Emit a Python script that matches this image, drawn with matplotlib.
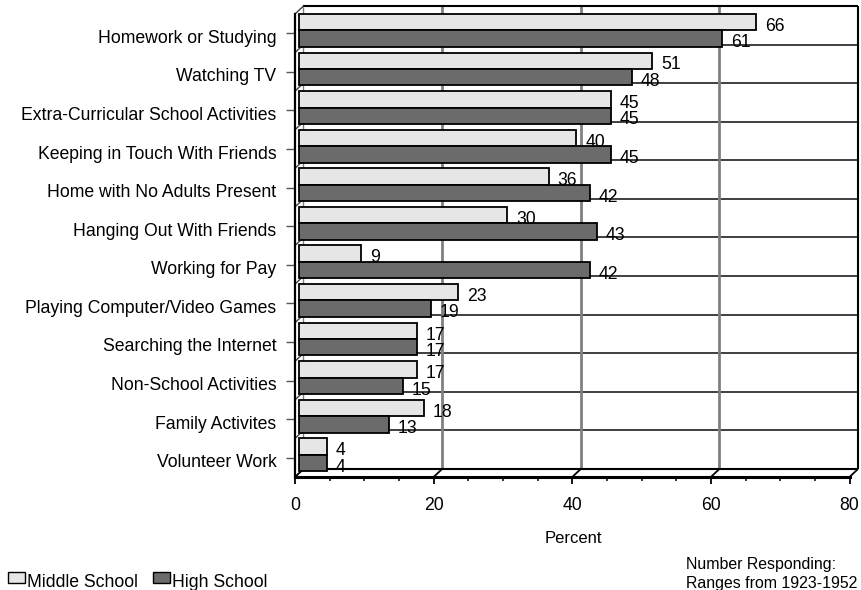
import matplotlib.pyplot as plt
from matplotlib.patches import Rectangle
from matplotlib.ticker import MultipleLocator
from matplotlib.transforms import ScaledTranslation

activities = [
    "Homework or Studying",
    "Watching TV",
    "Extra-Curricular School Activities",
    "Keeping in Touch With Friends",
    "Home with No Adults Present",
    "Hanging Out With Friends",
    "Working for Pay",
    "Playing Computer/Video Games",
    "Searching the Internet",
    "Non-School Activities",
    "Family Activites",
    "Volunteer Work",
]
middle_school = [66, 51, 45, 40, 36, 30, 9, 23, 17, 17, 18, 4]
high_school = [61, 48, 45, 45, 42, 43, 42, 19, 17, 15, 13, 4]

LIGHT = "#e6e6e6"
DARK = "#6b6b6b"

plt.rcParams["font.family"] = ["Liberation Sans", "DejaVu Sans"]
FS = 12.7

W, H = 862, 590
fig = plt.figure(figsize=(W / 100, H / 100), dpi=100)


def fx(px):
    return px / W


def fy(py):
    return 1 - py / H


# front plane of the pseudo-3D plot area, in pixels
x0, x1, ytop, ybot = 295, 849.5, 14, 477
ax = fig.add_axes([fx(x0), fy(ybot), (x1 - x0) / W, (ybot - ytop) / H])
ax.patch.set_visible(False)

n = len(activities)
xmax = 80
ax.set_xlim(0, xmax)
ax.set_ylim(n, 0)

px_x = (x1 - x0) / xmax
px_y = (ybot - ytop) / n
# depth of the back wall, converted to data units
DX, DY = 8.5 / px_x, 8 / px_y

line_kw = dict(clip_on=False, solid_capstyle="butt")

# back wall: category lines and value gridlines
for k in range(1, n):
    ax.plot([DX, xmax + DX], [k - DY, k - DY], color="#303030", lw=1.3, zorder=1, **line_kw)
for v in range(20, xmax, 20):
    ax.plot([v + DX, v + DX], [-DY, n - DY], color="#808080", lw=2, zorder=1, **line_kw)
ax.plot([DX, xmax + DX], [-DY, -DY], color="black", lw=1.5, zorder=1, **line_kw)
ax.plot([xmax + DX, xmax + DX], [-DY, n - DY], color="black", lw=1.5, zorder=1, **line_kw)
ax.plot([DX, xmax + DX], [n - DY, n - DY], color="black", lw=1.5, zorder=1, **line_kw)
ax.plot([DX, DX], [-DY, n - DY], color="#808080", lw=1, zorder=1, **line_kw)

# left wall and floor edges
for k in range(0, n + 1):
    ax.plot([0, DX], [k, k - DY], color="#404040", lw=1, zorder=2, **line_kw)
for v in range(0, xmax + 1, 20):
    ax.plot([v, v + DX], [n, n - DY], color="black", lw=1.3, zorder=2, **line_kw)

# bars sit halfway into the depth
bx, by = 4 / px_x, 3 / px_y
bh = 0.425
ys_mid = [i + 0.29 - by for i in range(n)]
ys_high = [i + 0.715 - by for i in range(n)]
ax.barh(ys_mid, middle_school, left=bx, height=bh, color=LIGHT,
        edgecolor="black", linewidth=1.3, zorder=3, clip_on=False)
ax.barh(ys_high, high_school, left=bx, height=bh, color=DARK,
        edgecolor="black", linewidth=1.3, zorder=3, clip_on=False)

gap = 9 / px_x
drop = 8.7 / px_y
for y, v in zip(ys_mid, middle_school):
    ax.text(bx + v + gap, y + drop, str(v), fontsize=FS, va="baseline", zorder=4)
for y, v in zip(ys_high, high_school):
    ax.text(bx + v + gap, y + drop, str(v), fontsize=FS, va="baseline", zorder=4)

# axes, ticks and labels
for side in ("top", "right"):
    ax.spines[side].set_visible(False)
ax.spines["bottom"].set_linewidth(2.2)
ax.spines["left"].set_linewidth(1.6)
ax.spines["bottom"].set_zorder(5)
ax.spines["left"].set_zorder(5)

ax.set_xticks(range(0, xmax + 1, 20))
ax.xaxis.set_minor_locator(MultipleLocator(5))
ax.tick_params(axis="x", which="major", direction="out", length=5, width=1.3,
               pad=9.5, labelsize=FS)
ax.tick_params(axis="x", which="minor", direction="out", length=2.9, width=1.1)

ax.set_yticks([i + 0.5 for i in range(n)])
ax.set_yticklabels(activities)
ax.tick_params(axis="y", direction="out", length=6.3, width=1, color="#555555",
               pad=7, labelsize=FS)
# category names sit a little below their tick marks
nudge = ScaledTranslation(0, -3 / 100, fig.dpi_scale_trans)
for lbl in ax.get_yticklabels():
    lbl.set_transform(lbl.get_transform() + nudge)

fig.text(fx(573), fy(543), "Percent", fontsize=12, ha="center", va="baseline")

# legend
for left, color, label in [(8, LIGHT, "Middle School"), (153, DARK, "High School")]:
    fig.add_artist(Rectangle((fx(left), fy(583)), 17 / W, 11 / H, transform=fig.transFigure,
                             facecolor=color, edgecolor="black", linewidth=1))
    fig.text(fx(left + 19), fy(587), label, fontsize=FS, va="baseline")

fig.text(fx(686), fy(569), "Number Responding:", fontsize=11.4, va="baseline")
fig.text(fx(686), fy(588), "Ranges from 1923-1952", fontsize=11.4, va="baseline")

fig.savefig("out.png", dpi=100)
